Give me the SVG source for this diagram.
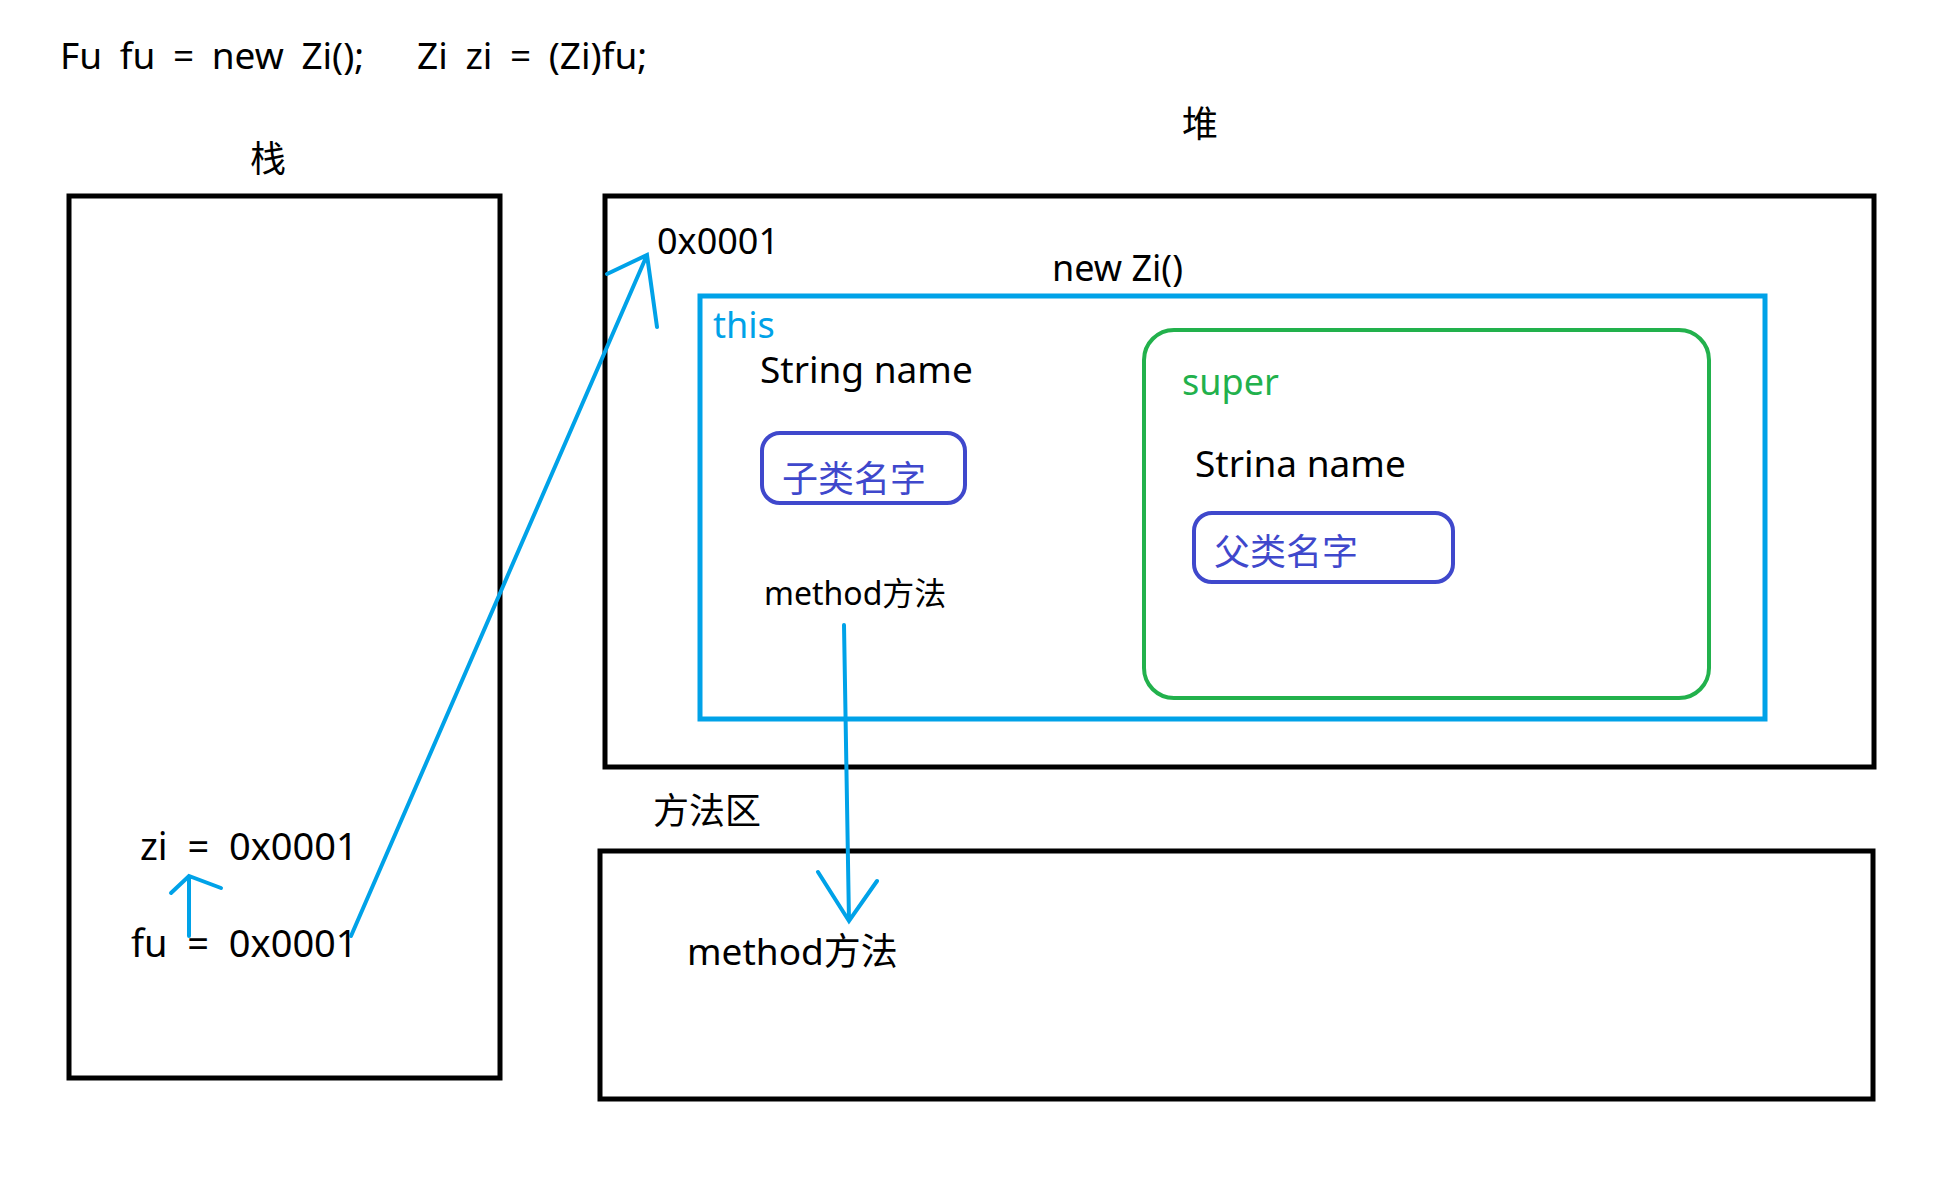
<svg xmlns="http://www.w3.org/2000/svg" width="1942" height="1190" viewBox="0 0 1942 1190">
<style>
text{font-family:"Noto Sans","Noto Sans CJK SC",sans-serif;font-size:36px;fill:#000}
.box{fill:none;stroke:#000;stroke-width:5}
.bl{fill:none;stroke:#00a2e8;stroke-width:4;stroke-linecap:round}
.pu{fill:none;stroke:#3f48cc;stroke-width:4}
</style>
<rect width="1942" height="1190" fill="#fff"/>
<text x="60" y="69" xml:space="preserve" style="white-space:pre;word-spacing:8px;font-size:37px">Fu fu = new Zi();   Zi zi = (Zi)fu;</text>
<g id="stack"><text x="250" y="172">栈</text><rect class="box" x="69" y="196" width="431" height="882"/>
<text x="140" y="860" style="font-size:38px" xml:space="preserve">zi  =  0x0001</text><text x="131" y="957" style="font-size:38px" xml:space="preserve">fu  =  0x0001</text></g>
<g id="heap"><text x="1182" y="137">堆</text><rect class="box" x="605" y="196" width="1269" height="571"/>
<text x="657" y="254">0x0001</text><text x="1052" y="281">new Zi()</text></g>
<g id="this"><rect x="700" y="296" width="1065" height="423" fill="none" stroke="#00a2e8" stroke-width="5"/>
<text x="713" y="338" style="fill:#00a2e8">this</text><text x="760" y="383" style="font-size:37px">String name</text>
<rect class="pu" x="762" y="433" width="203" height="70" rx="18"/><text x="782" y="492" style="fill:#3f48cc">子类名字</text>
<text x="764" y="605" style="font-size:32px">method方法</text></g>
<g id="super"><rect x="1144" y="330" width="565" height="368" rx="30" fill="none" stroke="#22b14c" stroke-width="4"/>
<text x="1182" y="395" style="fill:#22b14c">super</text><text x="1195" y="477" style="font-size:37px">Strina name</text>
<rect class="pu" x="1194" y="513" width="259" height="69" rx="18"/><text x="1214" y="565" style="fill:#3f48cc">父类名字</text></g>
<g id="methodarea"><text x="653" y="824">方法区</text><rect class="box" x="600" y="851" width="1273" height="248"/>
<text x="687" y="965" style="font-size:37px">method方法</text></g>
<g id="connectors">
<path class="bl" d="M351 936 L647 255 M607 274 L647 255 L657 327"/>
<path class="bl" d="M189 936 L189 876 M171 893 L189 876 L221 888"/>
<path class="bl" d="M844 625 L849 921 M818 872 L849 921 L877 881"/>
</g>
</svg>
